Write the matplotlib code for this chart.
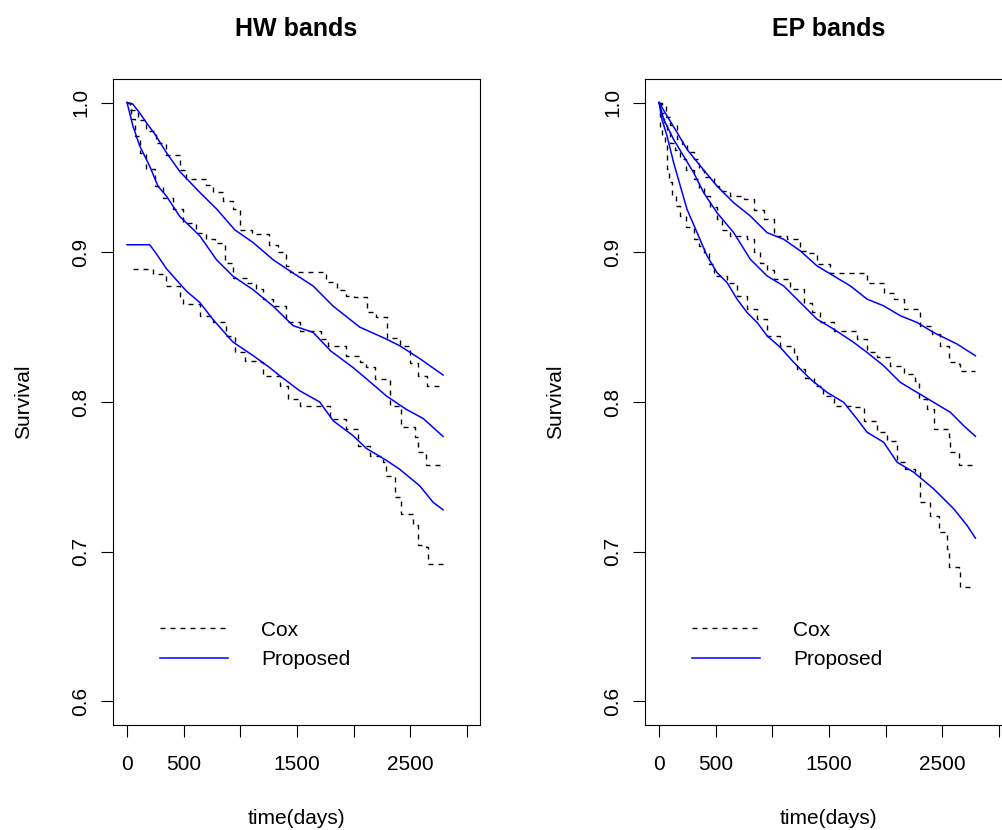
import matplotlib
matplotlib.use("Agg")
import matplotlib.pyplot as plt

plt.rcParams['font.family'] = ['Liberation Sans', 'DejaVu Sans']

# ---- HW bands (left panel) ----
# Proposed (smooth) curves: estimate band upper / middle / lower
hw_prop_up_t = [0, 50, 112, 171, 245, 348, 465, 642, 790, 951, 1113, 1290, 1408, 1643, 1820, 2055, 2291, 2409, 2585, 2791]
hw_prop_up_s = [1.0, 0.999, 0.993, 0.9865, 0.979, 0.9665, 0.954, 0.940, 0.929, 0.915, 0.9065, 0.895, 0.889, 0.8775, 0.864, 0.850, 0.842, 0.8375, 0.829, 0.818]
hw_prop_mid_t = [0, 53, 112, 200, 274, 348, 465, 642, 790, 936, 1113, 1290, 1466, 1643, 1800, 1996, 2114, 2291, 2468, 2615, 2791]
hw_prop_mid_s = [1.0, 0.984, 0.971, 0.9575, 0.944, 0.9375, 0.924, 0.911, 0.895, 0.884, 0.875, 0.864, 0.851, 0.8465, 0.834, 0.823, 0.8155, 0.804, 0.795, 0.789, 0.777]
hw_prop_low_t = [0, 200, 259, 348, 525, 642, 760, 936, 1113, 1260, 1349, 1525, 1702, 1820, 1996, 2114, 2291, 2409, 2585, 2703, 2791]
hw_prop_low_s = [0.905, 0.905, 0.899, 0.889, 0.874, 0.8665, 0.855, 0.840, 0.831, 0.823, 0.8175, 0.8075, 0.800, 0.7875, 0.7775, 0.769, 0.761, 0.755, 0.744, 0.733, 0.728]

# Cox (step) curves
hw_cox_up_t = [0, 30, 100, 171, 259, 348, 465, 520, 700, 760, 850, 936, 995, 1100, 1250, 1330, 1408, 1440, 1760, 1850, 1938, 2000, 2120, 2200, 2300, 2409, 2497, 2571, 2650, 2791]
hw_cox_up_s = [1.0, 0.995, 0.988, 0.981, 0.973, 0.965, 0.955, 0.9487, 0.945, 0.940, 0.934, 0.929, 0.915, 0.912, 0.905, 0.900, 0.891, 0.8865, 0.880, 0.875, 0.871, 0.8698, 0.8598, 0.8565, 0.843, 0.8376, 0.826, 0.8176, 0.8104, 0.8104]
hw_cox_mid_t = [0, 39, 68, 112, 171, 245, 318, 406, 495, 613, 701, 775, 863, 936, 1055, 1143, 1201, 1290, 1408, 1525, 1717, 1776, 1938, 2055, 2114, 2188, 2320, 2423, 2541, 2570, 2644, 2791]
hw_cox_mid_s = [1.0, 0.9887, 0.9776, 0.9665, 0.9553, 0.9442, 0.9364, 0.9287, 0.9198, 0.9131, 0.9087, 0.9064, 0.8931, 0.8831, 0.8798, 0.8753, 0.8687, 0.8642, 0.8531, 0.8476, 0.842, 0.8376, 0.8309, 0.8264, 0.8231, 0.8153, 0.7976, 0.7831, 0.7764, 0.7664, 0.7576, 0.7576]
hw_cox_low_t = [50, 141, 230, 348, 465, 495, 642, 760, 878, 951, 1040, 1172, 1201, 1349, 1422, 1525, 1702, 1790, 1938, 2041, 2144, 2262, 2291, 2365, 2423, 2526, 2570, 2644, 2659, 2791]
hw_cox_low_s = [0.889, 0.889, 0.8853, 0.8775, 0.8687, 0.8653, 0.8576, 0.8531, 0.8442, 0.8331, 0.8276, 0.8264, 0.8176, 0.8109, 0.802, 0.7976, 0.7976, 0.7887, 0.782, 0.7709, 0.7642, 0.7598, 0.7509, 0.7364, 0.7253, 0.7176, 0.7042, 0.7031, 0.692, 0.692]

# ---- EP bands (right panel) ----
ep_prop_up_t = [0, 71, 159, 247, 365, 512, 659, 806, 954, 1100, 1248, 1395, 1542, 1690, 1837, 1984, 2131, 2279, 2425, 2632, 2794]
ep_prop_up_s = [1.0, 0.991, 0.980, 0.9687, 0.9576, 0.9442, 0.9331, 0.9242, 0.9131, 0.9087, 0.9009, 0.8909, 0.8842, 0.8775, 0.8687, 0.8642, 0.8576, 0.8531, 0.8464, 0.8387, 0.8309]
ep_prop_mid_t = [0, 41, 129, 217, 306, 394, 512, 659, 806, 954, 1100, 1248, 1395, 1542, 1719, 1837, 1984, 2131, 2279, 2425, 2573, 2690, 2794]
ep_prop_mid_s = [1.0, 0.9887, 0.9753, 0.9642, 0.9531, 0.9398, 0.9264, 0.9131, 0.8953, 0.8842, 0.8775, 0.8664, 0.8553, 0.8487, 0.8398, 0.8331, 0.8242, 0.8131, 0.8064, 0.7998, 0.7931, 0.7842, 0.7771]
ep_prop_low_t = [0, 26, 71, 129, 188, 247, 336, 424, 512, 600, 689, 777, 866, 954, 1071, 1189, 1336, 1484, 1630, 1748, 1837, 1984, 2102, 2249, 2425, 2602, 2720, 2794]
ep_prop_low_s = [1.0, 0.9887, 0.9776, 0.9598, 0.9442, 0.9287, 0.9131, 0.8976, 0.8864, 0.8798, 0.8687, 0.8598, 0.8531, 0.8442, 0.8365, 0.8265, 0.8153, 0.8064, 0.7998, 0.7887, 0.7798, 0.7731, 0.7598, 0.7531, 0.742, 0.7287, 0.7176, 0.7091]

ep_cox_up_t = [0, 26, 60, 100, 159, 200, 250, 306, 350, 400, 482, 530, 630, 747, 840, 924, 1012, 1130, 1248, 1307, 1395, 1513, 1778, 1837, 1984, 2072, 2160, 2279, 2308, 2411, 2484, 2558, 2646, 2661, 2794]
ep_cox_up_s = [1.0, 0.9976, 0.990, 0.985, 0.9753, 0.972, 0.967, 0.962, 0.955, 0.950, 0.9442, 0.941, 0.9376, 0.9353, 0.928, 0.922, 0.9109, 0.9087, 0.9009, 0.8998, 0.892, 0.8864, 0.8864, 0.8798, 0.8731, 0.8687, 0.862, 0.862, 0.8509, 0.8453, 0.8376, 0.8264, 0.8253, 0.8209, 0.8209]
ep_cox_mid_t = [0, 20, 41, 70, 100, 140, 188, 240, 306, 350, 394, 450, 512, 560, 630, 777, 840, 895, 950, 1012, 1160, 1277, 1350, 1424, 1542, 1690, 1749, 1837, 1925, 2043, 2160, 2264, 2293, 2367, 2425, 2558, 2573, 2646, 2794]
ep_cox_mid_s = [1.0, 0.993, 0.9864, 0.980, 0.9731, 0.968, 0.962, 0.955, 0.9487, 0.943, 0.9376, 0.930, 0.922, 0.915, 0.9109, 0.9087, 0.900, 0.8931, 0.888, 0.882, 0.8753, 0.8664, 0.860, 0.8531, 0.8476, 0.8476, 0.842, 0.8331, 0.8298, 0.8242, 0.8187, 0.8142, 0.802, 0.7953, 0.782, 0.7764, 0.7664, 0.7576, 0.7576]
ep_cox_low_t = [0, 11, 30, 56, 71, 90, 115, 150, 188, 240, 306, 350, 394, 440, 482, 600, 689, 777, 866, 954, 1071, 1189, 1218, 1290, 1365, 1450, 1542, 1719, 1807, 1925, 2014, 2102, 2175, 2264, 2308, 2396, 2470, 2544, 2558, 2646, 2661, 2794]
ep_cox_low_s = [1.0, 0.982, 0.978, 0.9731, 0.9553, 0.947, 0.9376, 0.931, 0.9242, 0.917, 0.9087, 0.904, 0.8998, 0.892, 0.8842, 0.8798, 0.8709, 0.862, 0.8553, 0.8442, 0.8376, 0.8309, 0.822, 0.816, 0.8109, 0.804, 0.7976, 0.7964, 0.7876, 0.7798, 0.7742, 0.7598, 0.7553, 0.7531, 0.7331, 0.7242, 0.7131, 0.702, 0.6898, 0.6887, 0.6764, 0.6764]

x_ticks = [0, 500, 1000, 1500, 2000, 2500, 3000]
x_tick_labels = ['0', '500', '', '1500', '', '2500', '']
y_ticks = [0.6, 0.7, 0.8, 0.9, 1.0]
y_tick_labels = ['0.6', '0.7', '0.8', '0.9', '1.0']

FS = 15
COX_STYLE = dict(color='black', lw=1.0, linestyle=(0, (3.6, 3.6)), drawstyle='steps-post')
PROP_STYLE = dict(color='#0000ff', lw=1.1)

fig = plt.figure(figsize=(10.02, 8.30), dpi=100)
ax1 = fig.add_axes([113 / 1002, 105 / 830, 367 / 1002, 646 / 830])
ax2 = fig.add_axes([645 / 1002, 105 / 830, 367 / 1002, 646 / 830])


def draw_panel(ax, title, cox, prop):
    for t, s in cox:
        ax.plot(t, s, **COX_STYLE)
    for t, s in prop:
        ax.plot(t, s, **PROP_STYLE)
    ax.set_xlim(-124, 3117)
    ax.set_ylim(0.5843, 1.0157)
    ax.set_xticks(x_ticks)
    ax.set_xticklabels(x_tick_labels)
    ax.set_yticks(y_ticks)
    ax.set_yticklabels(y_tick_labels, rotation=90, va='center')
    ax.tick_params(direction='out', length=8.6, width=0.8, labelsize=FS)
    ax.tick_params(axis='x', pad=13)
    ax.tick_params(axis='y', pad=8)
    for sp in ax.spines.values():
        sp.set_linewidth(0.8)
    ax.set_title(title, fontsize=18, fontweight='bold', pad=31)
    ax.set_xlabel('time(days)', fontsize=FS, labelpad=25)
    ax.set_ylabel('Survival', fontsize=FS, labelpad=27)
    h_cox, = ax.plot([], [], color='black', lw=1.0, linestyle=(0, (3.6, 3.6)))
    h_prop, = ax.plot([], [], **PROP_STYLE)
    ax.legend([h_cox, h_prop], ['Cox', 'Proposed'], loc='center left',
              bbox_to_anchor=(0.105, 0.124), borderaxespad=0, frameon=False,
              fontsize=FS, handlelength=3.27, handletextpad=1.6, labelspacing=0.5)


draw_panel(ax1, 'HW bands',
           [(hw_cox_up_t, hw_cox_up_s), (hw_cox_mid_t, hw_cox_mid_s), (hw_cox_low_t, hw_cox_low_s)],
           [(hw_prop_up_t, hw_prop_up_s), (hw_prop_mid_t, hw_prop_mid_s), (hw_prop_low_t, hw_prop_low_s)])
draw_panel(ax2, 'EP bands',
           [(ep_cox_up_t, ep_cox_up_s), (ep_cox_mid_t, ep_cox_mid_s), (ep_cox_low_t, ep_cox_low_s)],
           [(ep_prop_up_t, ep_prop_up_s), (ep_prop_mid_t, ep_prop_mid_s), (ep_prop_low_t, ep_prop_low_s)])

fig.savefig('out.png', dpi=100)
